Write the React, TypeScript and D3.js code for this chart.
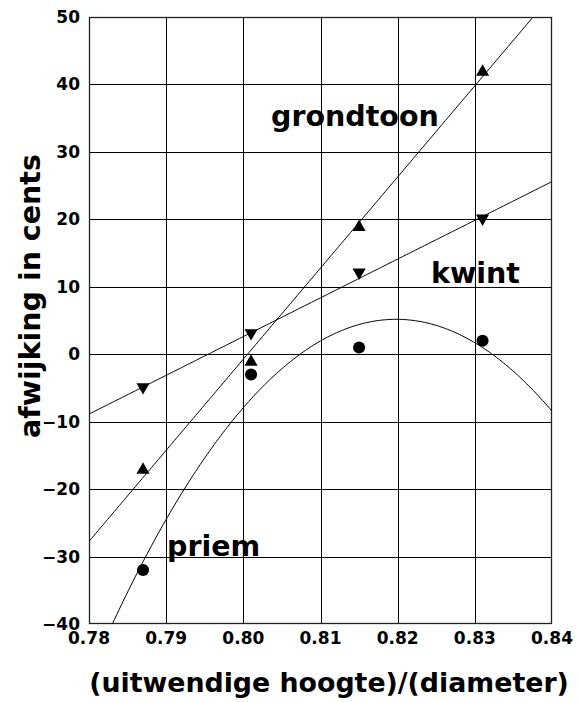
import * as d3 from "d3";

// measured ratio (uitwendige hoogte / diameter)
const ratios = [0.787, 0.801, 0.815, 0.831];
// afwijking in cents per partial
const grondtoon = [-17, -1, 19, 42];
const kwint = [-5, 3, 12, 20];
const priem = [-32, -3, 1, 2];

const xTicks = [0.78, 0.79, 0.8, 0.81, 0.82, 0.83, 0.84];
const yTicks = [-40, -30, -20, -10, 0, 10, 20, 30, 40, 50];

const W = 580;
const H = 702;
const margin = { top: 17, right: 28, bottom: 78, left: 89 };
const FONT = "'DejaVu Sans', Verdana, sans-serif";

// least squares polynomial fit (degree 1 or 2)
function polyFit(xs: number[], ys: number[], deg: number) {
  const n = deg + 1;
  const A: number[][] = [];
  for (let i = 0; i < n; i++) {
    A.push([]);
    for (let j = 0; j < n; j++) {
      A[i].push(d3.sum(xs, (x) => Math.pow(x, i + j)));
    }
    A[i].push(d3.sum(xs, (x, k) => Math.pow(x, i) * ys[k]));
  }
  for (let c = 0; c < n; c++) {
    for (let r = c + 1; r < n; r++) {
      const f = A[r][c] / A[c][c];
      for (let k = c; k <= n; k++) A[r][k] -= f * A[c][k];
    }
  }
  const coef = new Array(n).fill(0);
  for (let r = n - 1; r >= 0; r--) {
    let s = A[r][n];
    for (let k = r + 1; k < n; k++) s -= A[r][k] * coef[k];
    coef[r] = s / A[r][r];
  }
  return (x: number) => coef.reduce((acc, c, i) => acc + c * Math.pow(x, i), 0);
}

const App = () => {
  const x = d3
    .scaleLinear()
    .domain([0.78, 0.84])
    .range([margin.left, W - margin.right]);
  const y = d3
    .scaleLinear()
    .domain([-40, 50])
    .range([H - margin.bottom, margin.top]);

  const x0 = 0.78;
  const xc = ratios.map((r) => r - x0);
  const fitG = polyFit(xc, grondtoon, 1);
  const fitK = polyFit(xc, kwint, 1);
  const fitP = polyFit(xc, priem, 2);

  const xsCurve = d3.range(0, 201).map((i) => 0.78 + (0.06 * i) / 200);
  const line = (f: (v: number) => number) =>
    d3
      .line<number>()
      .x((d) => x(d))
      .y((d) => y(f(d - x0)))(xsCurve) as string;

  const tri = d3.symbol().type(d3.symbolTriangle).size(75)() as string;
  const circ = d3.symbol().type(d3.symbolCircle).size(115)() as string;

  const [px0, px1] = x.range();
  const [py1, py0] = y.range();

  return (
    <svg
      width={W}
      height={H}
      style={{ position: "absolute", left: 0, top: 0, background: "#fff" }}
    >
      <defs>
        <clipPath id="plot">
          <rect x={px0} y={py0} width={px1 - px0} height={py1 - py0} />
        </clipPath>
      </defs>

      {/* grid */}
      {xTicks.slice(1, -1).map((t) => (
        <line
          key={"gx" + t}
          x1={Math.round(x(t)) + 0.5}
          x2={Math.round(x(t)) + 0.5}
          y1={py0}
          y2={py1}
          stroke="#000"
          strokeWidth={1}
        />
      ))}
      {yTicks.slice(1, -1).map((t) => (
        <line
          key={"gy" + t}
          x1={px0}
          x2={px1}
          y1={Math.round(y(t)) + 0.5}
          y2={Math.round(y(t)) + 0.5}
          stroke="#000"
          strokeWidth={1}
        />
      ))}
      <rect
        x={px0 + 0.5}
        y={py0 + 0.5}
        width={px1 - px0 - 1}
        height={py1 - py0 - 1}
        fill="none"
        stroke="#222"
        strokeWidth={1.3}
      />

      {/* fits */}
      <g clipPath="url(#plot)" fill="none" stroke="#000" strokeWidth={1}>
        <path d={line(fitG)} />
        <path d={line(fitK)} />
        <path d={line(fitP)} />
      </g>

      {/* points */}
      {ratios.map((r, i) => (
        <g key={"p" + i} fill="#000">
          <path d={tri} transform={`translate(${x(r)},${y(grondtoon[i]) + 1})`} />
          <path
            d={tri}
            transform={`translate(${x(r)},${y(kwint[i]) - 1}) rotate(180)`}
          />
          <path d={circ} transform={`translate(${x(r)},${y(priem[i])})`} />
        </g>
      ))}

      {/* tick labels */}
      {yTicks.map((t) => (
        <text
          key={"ty" + t}
          x={px0 - 9}
          y={y(t) + 6}
          textAnchor="end"
          fontFamily={FONT}
          fontWeight="bold"
          fontSize={17}
        >
          {t < 0 ? "\u2212" + Math.abs(t) : t}
        </text>
      ))}
      {xTicks.map((t) => (
        <text
          key={"tx" + t}
          x={x(t)}
          y={py1 + 20}
          textAnchor="middle"
          fontFamily={FONT}
          fontWeight="bold"
          fontSize={17}
        >
          {t.toFixed(2)}
        </text>
      ))}

      {/* series labels */}
      <g fontFamily={FONT} fontWeight="bold" fontSize={28.5}>
        <text x={271} y={126}>grondtoon</text>
        <text x={431} y={283}>kwint</text>
        <text x={167} y={556}>priem</text>
      </g>

      {/* axis titles */}
      <text
        x={329}
        y={692}
        textAnchor="middle"
        fontFamily={FONT}
        fontWeight="bold"
        fontSize={26.8}
      >
        (uitwendige hoogte)/(diameter)
      </text>
      <text
        transform={`translate(40,${296}) rotate(-90)`}
        textAnchor="middle"
        fontFamily={FONT}
        fontWeight="bold"
        fontSize={28.5}
      >
        afwijking in cents
      </text>
    </svg>
  );
};

export default App;
